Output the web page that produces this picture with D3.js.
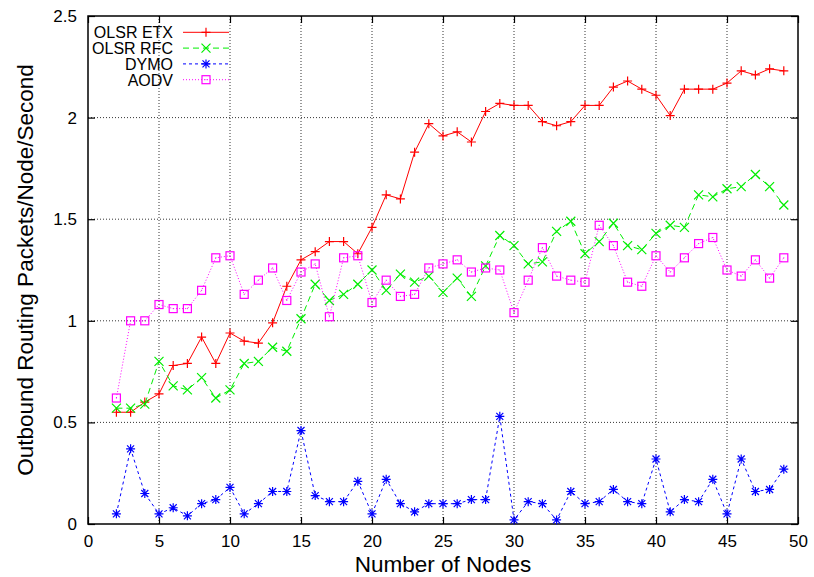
<!DOCTYPE html>
<html><head><meta charset="utf-8">
<script src="https://cdn.jsdelivr.net/npm/d3@7"></script>
<style>body{margin:0;background:#fff;} svg{display:block;font-family:"Liberation Sans",Arial,sans-serif;}</style>
</head><body><svg id="c" width="814" height="577"></svg>
<script>
const nodes = d3.range(2, 50);
const olsrEtx = [0.55,0.55,0.60,0.64,0.78,0.79,0.92,0.79,0.94,0.90,0.89,0.99,1.17,1.30,1.34,1.39,1.39,1.33,1.46,1.62,1.60,1.83,1.97,1.91,1.93,1.88,2.03,2.07,2.06,2.06,1.98,1.96,1.98,2.06,2.06,2.15,2.18,2.14,2.11,2.01,2.14,2.14,2.14,2.17,2.23,2.21,2.24,2.23];
const olsrRfc = [0.57,0.57,0.59,0.80,0.68,0.66,0.72,0.62,0.66,0.79,0.80,0.87,0.85,1.01,1.18,1.10,1.13,1.18,1.25,1.15,1.23,1.19,1.22,1.14,1.21,1.12,1.27,1.42,1.37,1.28,1.29,1.44,1.49,1.33,1.39,1.48,1.37,1.35,1.43,1.47,1.46,1.62,1.61,1.65,1.66,1.72,1.66,1.57];
const dymo = [0.05,0.37,0.15,0.05,0.08,0.04,0.10,0.12,0.18,0.05,0.10,0.16,0.16,0.46,0.14,0.11,0.11,0.21,0.05,0.22,0.10,0.06,0.10,0.10,0.10,0.12,0.12,0.53,0.02,0.11,0.10,0.02,0.16,0.10,0.11,0.17,0.11,0.10,0.32,0.06,0.12,0.11,0.22,0.05,0.32,0.16,0.17,0.27];
const aodv = [0.62,1.00,1.00,1.08,1.06,1.06,1.15,1.31,1.32,1.13,1.20,1.26,1.10,1.24,1.28,1.02,1.31,1.32,1.09,1.20,1.12,1.13,1.26,1.28,1.30,1.24,1.26,1.25,1.04,1.20,1.36,1.22,1.20,1.19,1.47,1.37,1.19,1.17,1.32,1.24,1.31,1.38,1.41,1.25,1.22,1.30,1.21,1.31];
const seriesNames = ["OLSR ETX","OLSR RFC","DYMO","AODV"];
const seriesColors = ["#ff0000","#00ee00","#0000ff","#ff00ff"];
const seriesDash = [null,"6,4","3,3","1,2"];
const seriesMarkers = ["plus","cross","star","square"];
const xTicks = [0,5,10,15,20,25,30,35,40,45,50];
const yTicks = [0,0.5,1,1.5,2,2.5];
const xTitle = "Number of Nodes";
const yTitle = "Outbound Routing Packets/Node/Second";

const svg = d3.select("#c");
const L=88, R=798, T=16, B=524;
const x = d3.scaleLinear().domain([0,50]).range([L,R]);
const y = d3.scaleLinear().domain([0,2.5]).range([B,T]);

// grid
const g = svg.append("g");
g.selectAll(".gx").data(xTicks.slice(1,-1)).join("line")
  .attr("x1",d=>x(d)).attr("x2",d=>x(d)).attr("y1",T).attr("y2",B)
  .attr("stroke","#000").attr("stroke-width",0.8).attr("stroke-dasharray","1,2");
g.selectAll(".gy").data(yTicks.slice(1,-1)).join("line")
  .attr("y1",d=>y(d)).attr("y2",d=>y(d)).attr("x1",L).attr("x2",R)
  .attr("stroke","#000").attr("stroke-width",0.8).attr("stroke-dasharray","1,2");

// axes
const ax = svg.append("g").attr("transform",`translate(0,${B})`)
  .call(d3.axisBottom(x).tickValues(xTicks).tickSize(-7).tickPadding(11).tickFormat(d3.format("d")));
const axT = svg.append("g").attr("transform",`translate(0,${T})`)
  .call(d3.axisTop(x).tickValues(xTicks).tickSize(-7).tickFormat(""));
const ay = svg.append("g").attr("transform",`translate(${L},0)`)
  .call(d3.axisLeft(y).tickValues(yTicks).tickSize(-7).tickPadding(11).tickFormat(d=>d===0?"0":d3.format("")(d)));
const ayR = svg.append("g").attr("transform",`translate(${R},0)`)
  .call(d3.axisRight(y).tickValues(yTicks).tickSize(-7).tickFormat(""));
[ax,axT,ay,ayR].forEach(a=>{
  a.select(".domain").remove();
  a.selectAll(".tick line").attr("stroke","#000").attr("stroke-width",1.2);
  a.selectAll("text").attr("font-size",17).attr("fill","#000").attr("font-family","Liberation Sans, Arial, sans-serif");
});
svg.append("rect").attr("x",L).attr("y",T).attr("width",R-L).attr("height",B-T)
  .attr("fill","none").attr("stroke","#000").attr("stroke-width",1.5);

svg.append("text").attr("x",(L+R)/2).attr("y",572).attr("text-anchor","middle")
  .attr("font-size",22.5).text(xTitle);
svg.append("text").attr("transform",`translate(32.5,${(T+B)/2}) rotate(-90)`).attr("text-anchor","middle")
  .attr("font-size",22.5).text(yTitle);

function marker(sel, type, color){
  const s=4.5;
  if(type==="plus"){
    sel.append("path").attr("d",`M${-s},0H${s}M0,${-s}V${s}`);
  } else if(type==="cross"){
    sel.append("path").attr("d",`M${-s},${-s}L${s},${s}M${-s},${s}L${s},${-s}`);
  } else if(type==="star"){
    sel.append("path").attr("d",`M${-s},0H${s}M0,${-s}V${s}M${-3.5},${-3.5}L3.5,3.5M${-3.5},3.5L3.5,${-3.5}`);
  } else {
    sel.append("rect").attr("x",-4).attr("y",-4).attr("width",8).attr("height",8).attr("fill","none");
    sel.append("rect").attr("x",-0.5).attr("y",-0.5).attr("width",1).attr("height",1).attr("fill",color).attr("stroke","none");
  }
  sel.selectAll("path,rect").filter(function(){return d3.select(this).attr("stroke")!=="none";})
    .attr("stroke",color).attr("stroke-width",1.2).attr("fill",function(){return d3.select(this).attr("fill")||"none";});
}

const allSeries=[olsrEtx,olsrRfc,dymo,aodv];
const line = d3.line().x((d,i)=>x(nodes[i])).y(d=>y(d));
allSeries.forEach((vals,si)=>{
  const gs = svg.append("g");
  gs.append("path").attr("d",line(vals)).attr("fill","none").attr("stroke",seriesColors[si])
    .attr("stroke-width",1).attr("stroke-dasharray",seriesDash[si]);
  gs.selectAll("g.m").data(vals).join("g").attr("class","m")
    .attr("transform",(d,i)=>`translate(${x(nodes[i])},${y(d)})`)
    .each(function(){marker(d3.select(this),seriesMarkers[si],seriesColors[si]);});
});

// legend
const lg = svg.append("g");
seriesNames.forEach((n,i)=>{
  const yy = 32.3 + i*15.8;
  lg.append("text").attr("x",173).attr("y",yy+6).attr("text-anchor","end").attr("font-size",16).text(n);
  lg.append("line").attr("x1",183).attr("x2",229).attr("y1",yy).attr("y2",yy)
    .attr("stroke",seriesColors[i]).attr("stroke-width",1).attr("stroke-dasharray",seriesDash[i]);
  const m = lg.append("g").attr("transform",`translate(206,${yy})`);
  marker(m,seriesMarkers[i],seriesColors[i]);
});
</script></body></html>
